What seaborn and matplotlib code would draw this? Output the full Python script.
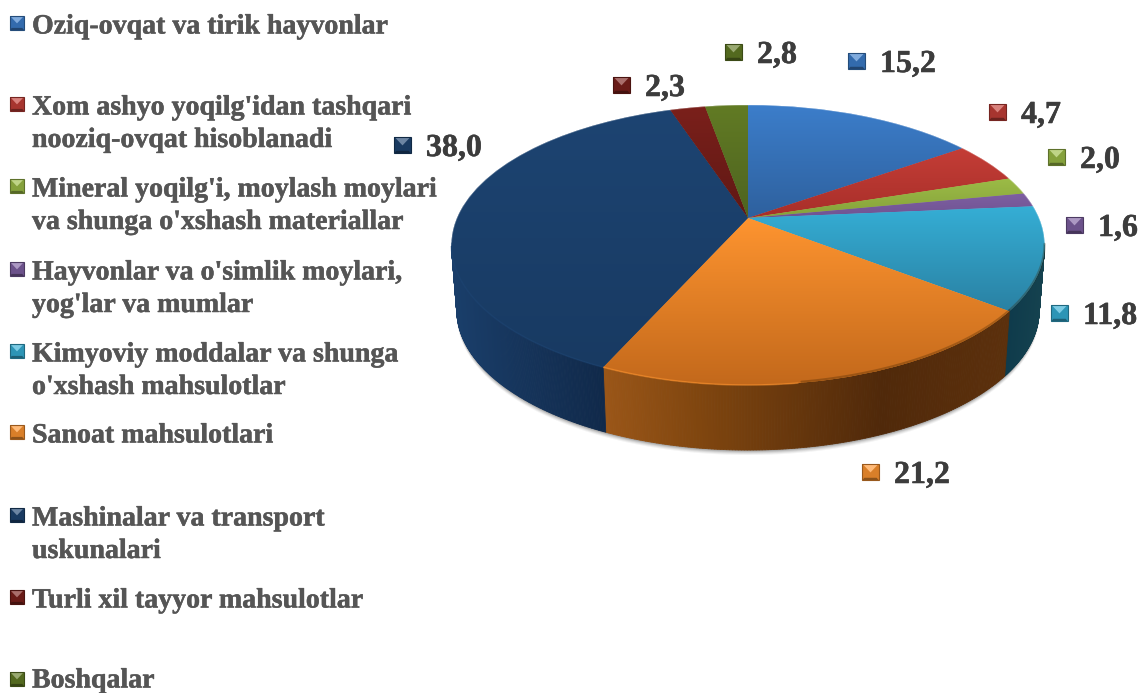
import numpy as np
import matplotlib
matplotlib.use("Agg")
import matplotlib.pyplot as plt
import matplotlib.patheffects as pe
import seaborn as sns
from matplotlib.collections import PolyCollection
from matplotlib.colors import to_rgb
from matplotlib.transforms import Transform

categories = ["Oziq-ovqat va tirik hayvonlar",
              "Xom ashyo yoqilg'idan tashqari\nnooziq-ovqat hisoblanadi",
              "Mineral yoqilg'i, moylash moylari\nva shunga o'xshash materiallar",
              "Hayvonlar va o'simlik moylari,\nyog'lar va mumlar",
              "Kimyoviy moddalar va shunga\no'xshash mahsulotlar",
              "Sanoat mahsulotlari",
              "Mashinalar va transport\nuskunalari",
              "Turli xil tayyor mahsulotlar",
              "Boshqalar"]
values = [15.2, 4.7, 2.0, 1.6, 11.8, 21.2, 38.0, 2.3, 2.8]
top_light = ["#3c7ecb", "#c53e37", "#9dbd47", "#7f60a3", "#35afd6", "#ff9530", "#1d4472", "#7b201b", "#627b24"]
top_dark = ["#2e609d", "#a72e29", "#84a03a", "#6e5290", "#2a80a2", "#c2681b", "#183a62", "#5f1814", "#4d6320"]

sns.set_theme(style="white")
plt.rcParams["font.family"] = ["Liberation Serif", "DejaVu Serif"]

fig = plt.figure(figsize=(11.39, 6.93), dpi=100)
ax = fig.add_axes([0, 0, 1, 1])

CX, CY, A, B, W = 748.0, 218.0, 291.0, 134.8, 0.193
DEPTH, SHRINK = 65.0, 0.982


def project(u, v):
    d = 1 + W * v
    return CX + A * u / d, CY - B * v / d


class Tilt(Transform):
    input_dims = output_dims = 2

    def transform_non_affine(self, values):
        p = np.asarray(values, float)
        x, y = project(p[:, 0], p[:, 1])
        return np.column_stack([x, y])


wedges, _ = ax.pie(values, startangle=90, counterclock=False,
                   colors=sns.color_palette(top_light), frame=True)
ax.set_aspect("auto")
ax.set_xlim(0, 1139)
ax.set_ylim(693, 0)
ax.set_xticks([])
ax.set_yticks([])
for s in ax.spines.values():
    s.set_visible(False)


def rim(t):
    return project(np.cos(np.radians(t)), np.sin(np.radians(t)))


def lower(x, y):
    return CX + (x - CX) * SHRINK, y + DEPTH


# soft shadow under the body
tt = np.linspace(-8, -172, 200)
rx, ry = rim(tt)
lx, ly = lower(rx, ry)
for off, al in [(5, .05), (4, .07), (3, .09), (2, .12), (1, .15)]:
    ax.fill(lx, ly + off, color="k", alpha=al, lw=0, zorder=1)

side_stops = {4: [(1002, "#0e3a4b"), (1040, "#15424f")],
              5: [(608, "#9a5618"), (700, "#80460f"), (880, "#50290a"), (1004, "#5c300c")],
              6: [(455, "#1a3f6b"), (520, "#16355c"), (608, "#10294a")]}

# wedge top faces with vertical gradients; visible side walls
for i, w in enumerate(wedges):
    w.set_transform(Tilt() + ax.transData)
    w.set_edgecolor("none")
    w.set_linewidth(0)
    w.set_zorder(3)
    t = np.linspace(w.theta1, w.theta2, 120)
    x, y = rim(t)
    y0, y1 = min(y.min(), CY), max(y.max(), CY)
    x0, x1 = min(x.min(), CX), max(x.max(), CX)
    f = np.linspace(0, 1, 256)[:, None, None]
    img = (1 - f) * np.array(to_rgb(top_light[i])) + f * np.array(to_rgb(top_dark[i]))
    im = ax.imshow(img, extent=(x0 - 2, x1 + 2, y1 + 2, y0 - 2), aspect="auto", zorder=4)
    im.set_clip_path(w.get_path(), w.get_transform())

    if i in side_stops:
        # only the part of the rim facing the viewer
        vis = np.sin(np.radians(t)) < -0.19
        tv = np.linspace(t[vis].min(), t[vis].max(), 160)
        xr, yr = rim(tv)
        xl, yl = lower(xr, yr)
        polys, cols = [], []
        sx = [a for a, _ in side_stops[i]]
        sc = np.array([to_rgb(c) for _, c in side_stops[i]])
        for k in range(len(tv) - 1):
            polys.append([(xr[k], yr[k]), (xr[k + 1], yr[k + 1]), (xl[k + 1], yl[k + 1]), (xl[k], yl[k])])
            xm = (xl[k] + xl[k + 1]) / 2
            cols.append([np.interp(xm, sx, sc[:, c]) for c in range(3)])
        ax.add_collection(PolyCollection(polys, facecolors=cols, edgecolors=cols, linewidths=0.6, zorder=2))
        keep = xr < 800
        if keep.any() and i != 4:
            ax.plot(xr[keep], yr[keep], color=top_light[i], lw=1.2, alpha=.5, zorder=5, solid_capstyle="butt")
        if i != 6:
            right = xr >= 800
            ax.plot(xr[right], yr[right] - 1, color="#3a2000", lw=1.6, alpha=.3, zorder=5)

# limb highlight
ta = np.linspace(-10, 190, 400)
xa, ya = rim(ta)
ax.plot(xa, ya, color="white", lw=0.7, alpha=.35, zorder=5)
ax.set_xlim(0, 1139)
ax.set_ylim(693, 0)


def key(x, y, s, color):
    """Bevelled square key, x/y = centre, s = side length"""
    h = s / 2
    base = np.array(to_rgb(color))
    lite = base + (1 - base) * 0.35
    dark = base * 0.55
    ax.fill([x - h, x + h, x + h, x - h], [y - h, y - h, y + h, y + h], color=base * 0.85, lw=0, zorder=6)
    ax.fill([x - h * .85, x + h * .85, x], [y - h * .85, y - h * .85, y + h * .05], color=lite, lw=0, zorder=6.2)
    ax.fill([x - h, x + h, x + h * .75, x - h * .75], [y + h, y + h, y + h * .7, y + h * .7], color=dark, lw=0, zorder=6.2)
    ax.fill([x - h, x + h, x + h, x - h, x - h], [y - h, y - h, y + h, y + h, y - h],
            fill=False, ec=base * 0.6, lw=0.8, zorder=7)


legend_y = [24, 105, 187, 270, 352, 433, 516, 598, 680]
bold = [pe.withStroke(linewidth=0.35, foreground="#555555")]
bold2 = [pe.withStroke(linewidth=0.4, foreground="#3c3c3c")]
for name, ly, c in zip(categories, legend_y, top_light):
    key(17, ly - 1, 14, c)
    yt = min(ly, 678)
    for n, line in enumerate(name.split("\n")):
        ax.text(32, yt + n * 32.5, line, fontsize=20.1, fontweight="bold", color="#555555",
                ha="left", va="center_baseline", zorder=8, path_effects=bold)

label_pos = [(880, 62), (1021, 113), (1080, 158), (1098, 226), (1083, 314), (894, 473), (426, 146), (645, 86), (757, 53)]
for v, (tx, ty), c in zip(values, label_pos, top_light):
    key(tx - 23.5, ty - 1, 16.5, c)
    ax.text(tx, ty - 1, f"{v:.1f}".replace(".", ","), fontsize=23, fontweight="bold", color="#3c3c3c",
            ha="left", va="center_baseline", zorder=8, path_effects=bold2)

fig.savefig("out.png", dpi=100)
